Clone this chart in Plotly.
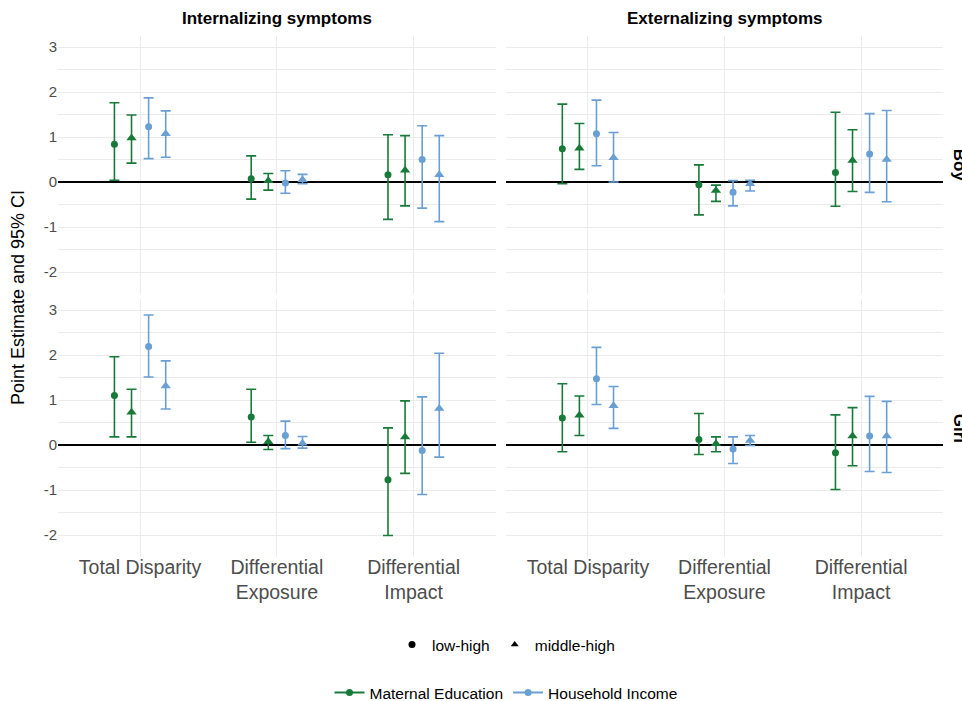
import plotly.graph_objects as go

# ---------------- data ----------------
categories = ["Total Disparity", "Differential<br>Exposure", "Differential<br>Impact"]
groups = ["Maternal Education", "Household Income"]
contrasts = ["low-high", "middle-high"]
y_ticks = [-2, -1, 0, 1, 2, 3]
y_tick_labels = ["-2", "-1", "0", "1", "2", "3"]

# order within each category: ME low-high, ME middle-high, HI low-high, HI middle-high
int_boy_est = [0.84, 0.98, 1.23, 1.07, 0.07, 0.03, -0.02, 0.05, 0.16, 0.26, 0.50, 0.16]
int_boy_lo = [0.04, 0.42, 0.52, 0.55, -0.38, -0.18, -0.25, -0.04, -0.83, -0.53, -0.58, -0.88]
int_boy_hi = [1.76, 1.49, 1.87, 1.58, 0.58, 0.19, 0.25, 0.17, 1.05, 1.03, 1.25, 1.03]

ext_boy_est = [0.74, 0.75, 1.07, 0.54, -0.06, -0.19, -0.23, -0.04, 0.21, 0.48, 0.62, 0.50]
ext_boy_lo = [-0.04, 0.28, 0.36, 0.00, -0.73, -0.43, -0.53, -0.20, -0.54, -0.21, -0.23, -0.44]
ext_boy_hi = [1.73, 1.30, 1.82, 1.10, 0.38, -0.07, 0.03, 0.04, 1.55, 1.16, 1.52, 1.59]

int_girl_est = [1.10, 0.73, 2.19, 1.31, 0.62, 0.07, 0.21, 0.04, -0.77, 0.18, -0.12, 0.81]
int_girl_lo = [0.18, 0.18, 1.51, 0.80, 0.06, -0.10, -0.08, -0.07, -2.01, -0.63, -1.10, -0.27]
int_girl_hi = [1.96, 1.24, 2.89, 1.87, 1.24, 0.21, 0.53, 0.19, 0.38, 0.98, 1.07, 2.04]

ext_girl_est = [0.60, 0.66, 1.47, 0.87, 0.12, 0.03, -0.09, 0.10, -0.17, 0.20, 0.20, 0.20]
ext_girl_lo = [-0.15, 0.21, 0.90, 0.37, -0.21, -0.15, -0.41, -0.01, -0.99, -0.46, -0.59, -0.61]
ext_girl_hi = [1.36, 1.09, 2.17, 1.30, 0.70, 0.18, 0.18, 0.21, 0.67, 0.83, 1.08, 0.97]

# ---------------- styling ----------------
GREEN = "#187A38"
BLUE = "#6A9FD4"
colors = [GREEN, GREEN, BLUE, BLUE]
symbols = ["circle", "triangle-up", "circle", "triangle-up"]
sizes = [7, 9, 7, 9]
offsets = [-0.1875, -0.0625, 0.0625, 0.1875]  # position_dodge(width = 0.5)
FONT = "Liberation Sans, Arial, sans-serif"
GRID = "#EBEBEB"

W, H = 962, 701


def xd(a, b):
    return [a / W, b / W]


def yd(top, bottom):
    return [1 - bottom / H, 1 - top / H]


facets = [
    ("x", "y", int_boy_est, int_boy_lo, int_boy_hi),
    ("x2", "y2", ext_boy_est, ext_boy_lo, ext_boy_hi),
    ("x3", "y3", int_girl_est, int_girl_lo, int_girl_hi),
    ("x4", "y4", ext_girl_est, ext_girl_lo, ext_girl_hi),
]

fig = go.Figure()
for xa, ya, est, lo, hi in facets:
    for g in range(4):
        idx = [c * 4 + g for c in range(3)]
        xs = [c + 1 + offsets[g] for c in range(3)]
        e = [est[i] for i in idx]
        up = [hi[i] - est[i] for i in idx]
        dn = [est[i] - lo[i] for i in idx]
        fig.add_trace(go.Scatter(
            x=xs, y=e, xaxis=xa, yaxis=ya, mode="markers",
            marker=dict(color=colors[g], symbol=symbols[g], size=sizes[g]),
            error_y=dict(type="data", symmetric=False, array=up, arrayminus=dn,
                         color=colors[g], thickness=1.6, width=5),
            showlegend=False, hoverinfo="skip",
        ))

# shape legend
for name, sym in zip(contrasts, ["circle", "triangle-up"]):
    fig.add_trace(go.Scatter(x=[None], y=[None], mode="markers", name=name,
                             marker=dict(color="black", symbol=sym, size=7),
                             legend="legend", showlegend=True))
# colour legend
for name, col in zip(groups, [GREEN, BLUE]):
    fig.add_trace(go.Scatter(x=[None], y=[None], mode="lines+markers", name=name,
                             line=dict(color=col, width=2),
                             marker=dict(color=col, symbol="circle", size=7),
                             legend="legend2", showlegend=True))

xcommon = dict(range=[0.4, 3.6], tickmode="array", tickvals=[1, 2, 3], ticktext=categories,
               showgrid=True, gridcolor=GRID, gridwidth=1.1, zeroline=False, showline=False,
               ticks="", ticklabelstandoff=-3,
               tickfont=dict(size=19.5, color="#4D4D4D", family=FONT))
ycommon = dict(range=[-2.48, 3.245], tickmode="array", tickvals=y_ticks, ticktext=y_tick_labels,
               showgrid=True, gridcolor=GRID, gridwidth=1.1,
               minor=dict(tick0=0, dtick=0.5, showgrid=True, gridcolor=GRID, gridwidth=0.6),
               zeroline=True, zerolinecolor="black", zerolinewidth=1.5, showline=False,
               ticks="", tickfont=dict(size=15, color="#4D4D4D", family=FONT))

XL, XR = (58, 495.7), (506, 943)
YT, YB = (36, 293.6), (299, 556.6)

fig.update_layout(
    width=W, height=H, margin=dict(l=0, r=0, t=0, b=0, autoexpand=False),
    paper_bgcolor="white", plot_bgcolor="white",
    font=dict(family=FONT, color="black"),
    xaxis=dict(xcommon, domain=xd(*XL), anchor="y", showticklabels=False),
    xaxis2=dict(xcommon, domain=xd(*XR), anchor="y2", showticklabels=False),
    xaxis3=dict(xcommon, domain=xd(*XL), anchor="y3"),
    xaxis4=dict(xcommon, domain=xd(*XR), anchor="y4"),
    yaxis=dict(ycommon, domain=yd(*YT), anchor="x"),
    yaxis2=dict(ycommon, domain=yd(*YT), anchor="x2", showticklabels=False),
    yaxis3=dict(ycommon, domain=yd(*YB), anchor="x3"),
    yaxis4=dict(ycommon, domain=yd(*YB), anchor="x4", showticklabels=False),
    legend=dict(orientation="h", x=506 / W, xanchor="center", y=1 - 645 / H, yanchor="middle",
                font=dict(size=15.5, family=FONT, color="black"), bgcolor="rgba(0,0,0,0)"),
    legend2=dict(orientation="h", x=506 / W, xanchor="center", y=1 - 693 / H, yanchor="middle",
                 font=dict(size=15.5, family=FONT, color="black"), bgcolor="rgba(0,0,0,0)"),
)

ann = [
    dict(text="<b>Internalizing symptoms</b>", x=sum(XL) / 2 / W, y=1 - 19 / H),
    dict(text="<b>Externalizing symptoms</b>", x=sum(XR) / 2 / W, y=1 - 19 / H),
]
for a in ann:
    fig.add_annotation(xref="paper", yref="paper", x=a["x"], y=a["y"], text=a["text"],
                       showarrow=False, xanchor="center", yanchor="middle",
                       font=dict(size=17, family=FONT, color="black"))
for label, yc in [("Boy", sum(YT) / 2), ("Girl", sum(YB) / 2)]:
    fig.add_annotation(xref="paper", yref="paper", x=959 / W, y=1 - yc / H, text="<b>" + label + "</b>",
                       showarrow=False, textangle=90, xanchor="center", yanchor="middle",
                       font=dict(size=17, family=FONT, color="black"))
fig.add_annotation(xref="paper", yref="paper", x=18 / W, y=1 - 298 / H,
                   text="Point Estimate and 95% CI", showarrow=False, textangle=-90,
                   xanchor="center", yanchor="middle",
                   font=dict(size=18, family=FONT, color="black"))

fig.write_html("out.html", config={"displayModeBar": False},
               post_script="document.body.style.margin='0px';document.body.style.overflow='hidden';")
